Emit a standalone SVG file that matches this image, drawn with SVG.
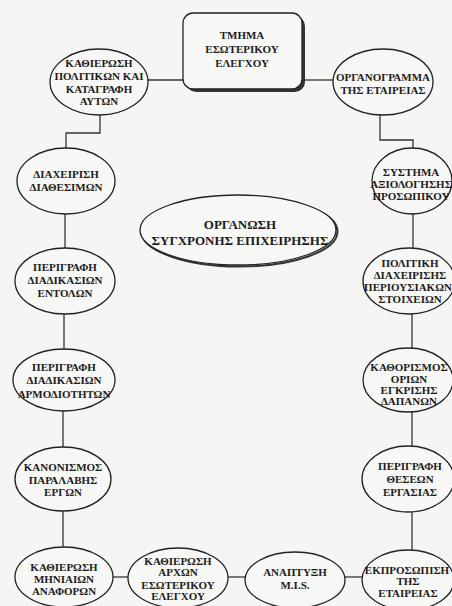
<svg xmlns="http://www.w3.org/2000/svg" width="452" height="606" viewBox="0 0 452 606">
<style>
.n{fill:#f7f7f5;stroke:#222;stroke-width:1.3}
.c{fill:none;stroke:#333;stroke-width:1.3}
text{font-family:"Liberation Serif","Times New Roman",serif;font-size:11px;font-weight:bold;fill:#1c1c1c;text-anchor:middle}
.big{font-size:13px}
</style>
<rect width="452" height="606" fill="#f5f5f3"/>
<g id="connectors">
<line class="c" x1="148" y1="80" x2="183" y2="80"/>
<line class="c" x1="302" y1="80" x2="333" y2="80"/>
<polyline class="c" points="100,115 100,133 66,133 66,148"/>
<polyline class="c" points="380,115 380,140 413,140 413,148"/>
<line class="c" x1="65" y1="214" x2="65" y2="249"/>
<line class="c" x1="64" y1="314" x2="64" y2="349"/>
<line class="c" x1="63" y1="411" x2="63" y2="447"/>
<line class="c" x1="63" y1="511" x2="63" y2="547"/>
<line class="c" x1="413" y1="214" x2="413" y2="249"/>
<line class="c" x1="412" y1="314" x2="412" y2="349"/>
<line class="c" x1="412" y1="412" x2="412" y2="447"/>
<line class="c" x1="412" y1="512" x2="412" y2="551"/>
<line class="c" x1="113" y1="577" x2="128" y2="577"/>
<line class="c" x1="228" y1="577" x2="245" y2="577"/>
<line class="c" x1="345" y1="577" x2="362" y2="577"/>
</g>
<g id="tmima">
<rect x="186" y="16" width="119" height="76" rx="10" fill="#333"/>
<rect class="n" x="183" y="13" width="119" height="76" rx="10"/>
<text x="242" y="39">ΤΜΗΜΑ</text>
<text x="242" y="53">ΕΣΩΤΕΡΙΚΟΥ</text>
<text x="242" y="67">ΕΛΕΓΧΟΥ</text>
</g>
<g id="center">
<ellipse cx="239.5" cy="231.5" rx="98" ry="35" fill="none" stroke="#333" stroke-width="2"/>
<ellipse class="n" cx="238" cy="230" rx="98" ry="35"/>
<text class="big" x="240" y="229">ΟΡΓΑΝΩΣΗ</text>
<text class="big" x="240" y="245">ΣΥΓΧΡΟΝΗΣ ΕΠΙΧΕΙΡΗΣΗΣ</text>
</g>
<g id="kathierosi-politikon">
<ellipse class="n" cx="99" cy="82" rx="49" ry="33"/>
<text x="99" y="67">ΚΑΘΙΕΡΩΣΗ</text>
<text x="99" y="80">ΠΟΛΙΤΙΚΩΝ ΚΑΙ</text>
<text x="99" y="93">ΚΑΤΑΓΡΑΦΗ</text>
<text x="99" y="105">ΑΥΤΩΝ</text>
</g>
<g id="organogramma">
<ellipse class="n" cx="383" cy="82" rx="50" ry="33"/>
<text x="383" y="81">ΟΡΓΑΝΟΓΡΑΜΜΑ</text>
<text x="383" y="94">ΤΗΣ ΕΤΑΙΡΕΙΑΣ</text>
</g>
<g id="diaxeirisi-diathesimon">
<ellipse class="n" cx="66" cy="181" rx="49" ry="33"/>
<text x="66" y="178">ΔΙΑΧΕΙΡΙΣΗ</text>
<text x="66" y="191">ΔΙΑΘΕΣΙΜΩΝ</text>
</g>
<g id="systima-axiologisis">
<ellipse class="n" cx="412" cy="181" rx="40" ry="33"/>
<text x="411" y="176">ΣΥΣΤΗΜΑ</text>
<text x="411" y="188">ΑΞΙΟΛΟΓΗΣΗΣ</text>
<text x="411" y="200">ΠΡΟΣΩΠΙΚΟΥ</text>
</g>
<g id="perigrafi-entolon">
<ellipse class="n" cx="65" cy="281" rx="50" ry="33"/>
<text x="65" y="271">ΠΕΡΙΓΡΑΦΗ</text>
<text x="65" y="284">ΔΙΑΔΙΚΑΣΙΩΝ</text>
<text x="65" y="297">ΕΝΤΟΛΩΝ</text>
</g>
<g id="politiki-periousiakon">
<ellipse class="n" cx="409" cy="281" rx="46" ry="33"/>
<text x="410" y="267">ΠΟΛΙΤΙΚΗ</text>
<text x="410" y="279">ΔΙΑΧΕΙΡΙΣΗΣ</text>
<text x="408" y="291" font-size="10">ΠΕΡΙΟΥΣΙΑΚΩΝ</text>
<text x="410" y="303">ΣΤΟΙΧΕΙΩΝ</text>
</g>
<g id="perigrafi-armodiotiton">
<ellipse class="n" cx="64" cy="380" rx="51" ry="31"/>
<text x="64" y="371">ΠΕΡΙΓΡΑΦΗ</text>
<text x="64" y="384">ΔΙΑΔΙΚΑΣΙΩΝ</text>
<text x="64" y="398">ΑΡΜΟΔΙΟΤΗΤΩΝ</text>
</g>
<g id="kathorismos-orion">
<ellipse class="n" cx="408" cy="380" rx="45" ry="32"/>
<text x="409" y="371">ΚΑΘΟΡΙΣΜΟΣ</text>
<text x="409" y="383">ΟΡΙΩΝ</text>
<text x="409" y="394">ΕΓΚΡΙΣΗΣ</text>
<text x="409" y="405">ΔΑΠΑΝΩΝ</text>
</g>
<g id="kanonismos">
<ellipse class="n" cx="63" cy="479" rx="48" ry="32"/>
<text x="63" y="471">ΚΑΝΟΝΙΣΜΟΣ</text>
<text x="63" y="484">ΠΑΡΑΛΑΒΗΣ</text>
<text x="63" y="496">ΕΡΓΩΝ</text>
</g>
<g id="perigrafi-theseon">
<ellipse class="n" cx="408" cy="479" rx="46" ry="33"/>
<text x="410" y="470">ΠΕΡΙΓΡΑΦΗ</text>
<text x="410" y="483">ΘΕΣΕΩΝ</text>
<text x="410" y="496">ΕΡΓΑΣΙΑΣ</text>
</g>
<g id="miniaion-anaforon">
<ellipse class="n" cx="64" cy="577" rx="49" ry="30"/>
<text x="64" y="571">ΚΑΘΙΕΡΩΣΗ</text>
<text x="64" y="583">ΜΗΝΙΑΙΩΝ</text>
<text x="64" y="595">ΑΝΑΦΟΡΩΝ</text>
</g>
<g id="arxon-elegxou">
<ellipse class="n" cx="178" cy="578" rx="50" ry="30"/>
<text x="178" y="565">ΚΑΘΙΕΡΩΣΗ</text>
<text x="178" y="576">ΑΡΧΩΝ</text>
<text x="178" y="589">ΕΣΩΤΕΡΙΚΟΥ</text>
<text x="178" y="600">ΕΛΕΓΧΟΥ</text>
</g>
<g id="mis">
<ellipse class="n" cx="295" cy="580" rx="50" ry="28"/>
<text x="295" y="576">ΑΝΑΠΤΥΞΗ</text>
<text x="295" y="589">M.I.S.</text>
</g>
<g id="ekprosopisi">
<ellipse class="n" cx="408" cy="580" rx="46" ry="30"/>
<text x="407" y="574" font-size="10.5">ΕΚΠΡΟΣΩΠΙΣΗ</text>
<text x="408" y="585">ΤΗΣ</text>
<text x="408" y="597">ΕΤΑΙΡΕΙΑΣ</text>
</g>
</svg>
